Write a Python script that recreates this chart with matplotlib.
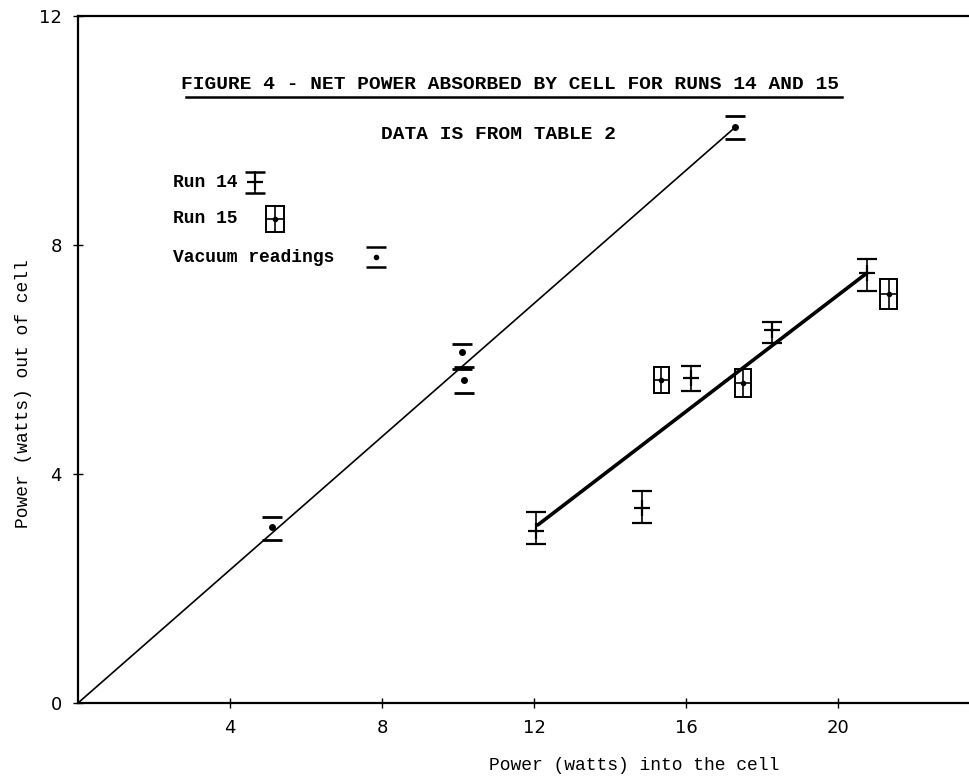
import matplotlib
matplotlib.use("Agg")
import matplotlib.pyplot as plt
from matplotlib.patches import Rectangle

# ---- data (watts) ----
# vacuum readings: dot with upper / lower dash
vac_x = [5.1, 10.1, 10.15, 17.3]
vac_y = [3.07, 6.13, 5.64, 10.06]
vac_hi = [3.25, 6.27, 5.87, 10.25]
vac_lo = [2.85, 5.83, 5.41, 9.85]

# run 14: cross with I-shaped error bar
r14_x = [12.05, 14.84, 16.13, 18.26, 20.76]
r14_y = [3.00, 3.41, 5.68, 6.52, 7.51]
r14_hi = [3.34, 3.70, 5.89, 6.66, 7.76]
r14_lo = [2.78, 3.14, 5.45, 6.29, 7.20]

# run 15: boxed cross (x and y uncertainty)
r15_x = [15.35, 17.5, 21.33]
r15_y = [5.64, 5.59, 7.14]
r15_dx = [0.2, 0.22, 0.22]
r15_dy = [0.23, 0.25, 0.26]

# fitted lines
vac_line_x = [0, 17.3]
vac_line_y = [0, 10.06]
run_line_x = [12.1, 20.76]
run_line_y = [3.11, 7.51]

xticks = [4, 8, 12, 16, 20]
yticks = [0, 4, 8, 12]

mono = "Liberation Mono"

fig = plt.figure(figsize=(9.7, 7.8), dpi=100)
ax = fig.add_axes([0.0804, 0.0987, 0.9175, 0.8808])
ax.set_xlim(0, 23.42)
ax.set_ylim(0, 12)

ax.plot(vac_line_x, vac_line_y, color="black", lw=1.2)
ax.plot(run_line_x, run_line_y, color="black", lw=2.6, solid_capstyle="round")

# vacuum readings
vac_err = [[y - l for y, l in zip(vac_y, vac_lo)], [h - y for y, h in zip(vac_y, vac_hi)]]
eb = ax.errorbar(vac_x, vac_y, yerr=vac_err, fmt="o", ms=4, color="black",
                 capsize=7, capthick=2)
eb[2][0].set_visible(False)

# run 14
r14_err = [[y - l for y, l in zip(r14_y, r14_lo)], [h - y for y, h in zip(r14_y, r14_hi)]]
ax.errorbar(r14_x, r14_y, yerr=r14_err, fmt="+", ms=11, mew=1.6, color="black",
            elinewidth=1.2, capsize=7, capthick=1.8)

# run 15
ax.errorbar(r15_x, r15_y, xerr=r15_dx, yerr=r15_dy, fmt="o", ms=3, color="black",
            elinewidth=1.2, capsize=0)
for x, y, dx, dy in zip(r15_x, r15_y, r15_dx, r15_dy):
    ax.add_patch(Rectangle((x - dx, y - dy), 2 * dx, 2 * dy, fill=False,
                           edgecolor="black", lw=1.4))

# axes styling
ax.spines["right"].set_visible(False)
for s in ["left", "bottom", "top"]:
    ax.spines[s].set_linewidth(1.6)
ax.set_xticks(xticks)
ax.set_yticks(yticks)
ax.tick_params(direction="inout", length=7, width=1, labelsize=13, pad=8)
for lab in ax.get_xticklabels() + ax.get_yticklabels():
    lab.set_fontfamily("DejaVu Sans")

ax.set_xlabel("Power (watts) into the cell", fontsize=13, family=mono)
ax.xaxis.set_label_coords(0.625, -0.078)
ax.set_ylabel("Power (watts) out of cell", fontsize=13, family=mono)
ax.yaxis.set_label_coords(-0.052, 0.45)

# titles
ax.text(0.485, 0.901, "FIGURE 4 - NET POWER ABSORBED BY CELL FOR RUNS 14 AND 15",
        transform=ax.transAxes, ha="center", va="center", fontsize=14, family=mono,
        weight="bold")
ax.plot([0.121, 0.858], [0.882, 0.882], transform=ax.transAxes, color="black", lw=1.8)
ax.text(0.473, 0.828, "DATA IS FROM TABLE 2", transform=ax.transAxes,
        ha="center", va="center", fontsize=14, family=mono, weight="bold")

# hand-drawn key
key_y = [0.758, 0.705, 0.649]
key_labels = ["Run 14", "Run 15", "Vacuum readings"]
for yy, lab in zip(key_y, key_labels):
    ax.text(0.107, yy, lab, transform=ax.transAxes, va="center", fontsize=13,
            family=mono, weight="bold")

kx = 0.199
ax.plot([kx, kx], [key_y[0] - 0.015, key_y[0] + 0.015], transform=ax.transAxes, color="black", lw=1.2)
ax.plot([kx, kx], [key_y[0] - 0.015, key_y[0] + 0.015], transform=ax.transAxes, color="black",
        ls="none", marker="_", ms=14, mew=1.8)
ax.plot([kx], [key_y[0]], transform=ax.transAxes, color="black", marker="+", ms=11, mew=1.6)

bx = 0.221
ax.add_patch(Rectangle((bx - 0.0101, key_y[1] - 0.019), 0.0202, 0.038, transform=ax.transAxes,
                       fill=False, edgecolor="black", lw=1.4))
ax.plot([bx, bx], [key_y[1] - 0.019, key_y[1] + 0.019], transform=ax.transAxes, color="black", lw=1.2)
ax.plot([bx - 0.0101, bx + 0.0101], [key_y[1], key_y[1]], transform=ax.transAxes, color="black", lw=1.2)
ax.plot([bx], [key_y[1]], transform=ax.transAxes, color="black", marker="o", ms=3)

vx = 0.335
ax.plot([vx, vx], [key_y[2] - 0.0145, key_y[2] + 0.0145], transform=ax.transAxes, color="black",
        ls="none", marker="_", ms=14, mew=1.8)
ax.plot([vx], [key_y[2]], transform=ax.transAxes, color="black", marker="o", ms=3)

fig.savefig("out.png", dpi=100)
